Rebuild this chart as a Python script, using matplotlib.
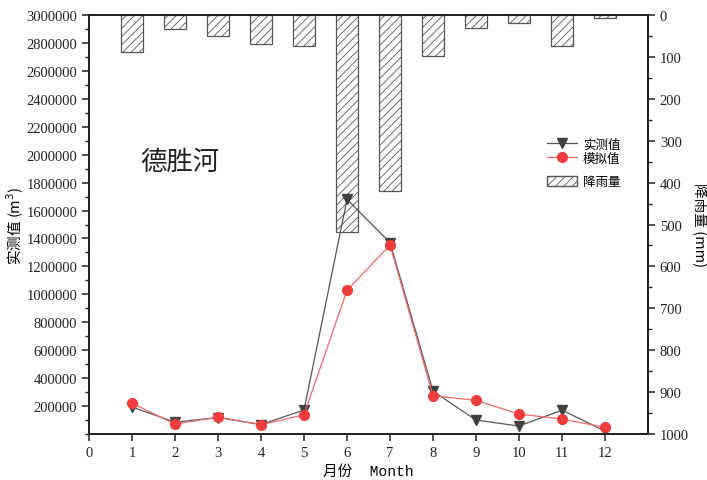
import numpy as np
import matplotlib
matplotlib.use("Agg")
import matplotlib.pyplot as plt
from matplotlib.ticker import MultipleLocator, FixedLocator, FormatStrFormatter
from matplotlib.patches import Patch
from matplotlib.lines import Line2D

# ------------------------
# Data
# ------------------------
months = [1, 2, 3, 4, 5, 6, 7, 8, 9, 10, 11, 12]
observed = [193000, 85000, 118000, 68000, 172000, 1680000, 1370000,
            307000, 100000, 57000, 171000, 21000]          # 实测值 (m3)
simulated = [221000, 71000, 121000, 66000, 138000, 1029000, 1352000,
             274000, 241000, 143000, 107000, 48000]        # 模拟值 (m3)
rainfall = [88, 34, 49, 69, 73, 517, 421, 97, 32, 20, 75, 6]  # 降雨量 (mm)

plt.rcParams['hatch.linewidth'] = 0.6
serif = ['Liberation Serif', 'Noto Sans CJK SC']
cjk = ['Noto Sans CJK SC', 'DejaVu Sans']

obs_style = dict(color='#555555', lw=0.9, marker='v', ms=7.5,
                 mfc='#404040', mec='#404040')
sim_style = dict(color='#f06a6a', lw=0.9, marker='o', ms=7,
                 mfc='#f03c3c', mec='#f03c3c')

fig = plt.figure(figsize=(7.07, 4.81), dpi=100)
ax = fig.add_axes([0.1259, 0.0956, 0.7907, 0.8711])
ax2 = ax.twinx()

# rainfall bars hang from the top (inverted right axis)
ax2.bar(months, rainfall, width=0.5, color='white', edgecolor='#555555',
        linewidth=0.9, hatch='////')
ax2.set_ylim(1000, 0)
ax2.yaxis.set_major_locator(MultipleLocator(100))
ax2.yaxis.set_minor_locator(MultipleLocator(50))

# keep the lines above the bars
ax.set_zorder(ax2.get_zorder() + 1)
ax.patch.set_visible(False)

ax.plot(months, observed, **obs_style)
ax.plot(months, simulated, **sim_style)

ax.set_xlim(0, 13)
ax.set_ylim(0, 3000000)
ax.xaxis.set_major_locator(FixedLocator(range(0, 13)))
ax.yaxis.set_major_locator(FixedLocator(range(200000, 3000001, 200000)))
ax.yaxis.set_minor_locator(MultipleLocator(100000))
ax.yaxis.set_major_formatter(FormatStrFormatter('%d'))

for a in (ax, ax2):
    for s in a.spines.values():
        s.set_linewidth(1.3)
        s.set_color('#222222')
    a.tick_params(which='major', direction='out', length=5, width=1.1,
                  labelsize=10.5, colors='#222222')
    a.tick_params(which='minor', direction='out', length=3, width=1.0,
                  colors='#222222')
    for lab in a.get_xticklabels() + a.get_yticklabels():
        lab.set_family(serif)

ax.set_xlabel('月份  Month', family=['Liberation Mono', 'Noto Sans CJK SC'],
              fontsize=10.5, labelpad=4)
ax.set_ylabel('实测值 (m$^3$)', family=cjk, fontsize=10.5, labelpad=0)
ax2.set_ylabel('降雨量 (mm)', family=cjk, fontsize=10.5, rotation=270,
               labelpad=13)

ax.text(1.2, 1950000, '德胜河', family=cjk, fontsize=19, ha='left',
        va='center', color='#222222')

# two legend blocks: the lines, then the rainfall hatch a bit lower
leg1 = ax.legend([Line2D([], [], **obs_style), Line2D([], [], **sim_style)],
                 ['实测值', '模拟值'], prop={'family': cjk, 'size': 9},
                 frameon=False, loc='center left',
                 bbox_to_anchor=(0.81, 0.675), handlelength=2.4,
                 handletextpad=0.5, labelspacing=0.08, borderaxespad=0)
ax.add_artist(leg1)
ax.legend([Patch(facecolor='white', edgecolor='#555555', hatch='////')],
          ['降雨量'], prop={'family': cjk, 'size': 9}, frameon=False,
          loc='center left', bbox_to_anchor=(0.81, 0.602), handlelength=2.4,
          handleheight=0.9, handletextpad=0.5, borderaxespad=0)

fig.savefig('out.png', dpi=100)
